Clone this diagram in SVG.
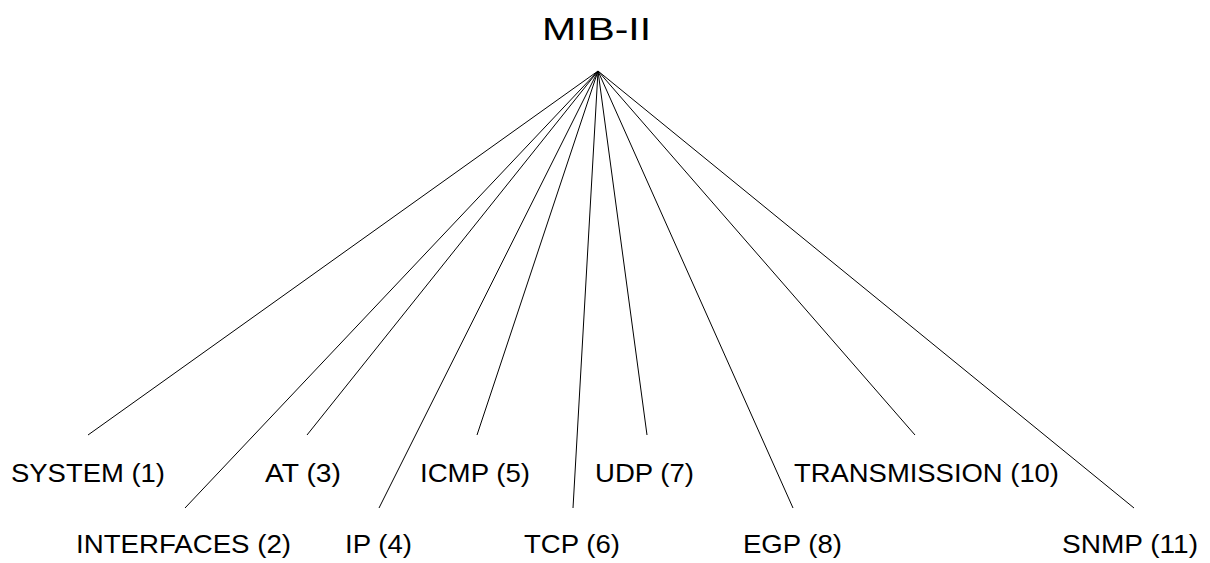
<svg xmlns="http://www.w3.org/2000/svg" width="1210" height="563" viewBox="0 0 1210 563">
<style>
.lbl{font-family:"Liberation Sans",Arial,sans-serif;font-size:26px;fill:#000}
.ttl{font-family:"Liberation Sans",Arial,sans-serif;font-size:32px;fill:#000}
.edge{stroke:#000;stroke-width:1;fill:none}
</style>
<rect width="1210" height="563" fill="#fff"/>
<g id="root"><text class="ttl" x="542" y="39.5" textLength="109" lengthAdjust="spacingAndGlyphs">MIB-II</text></g>
<g id="connectors">
<line class="edge" x1="598" y1="71" x2="88" y2="435"/>
<line class="edge" x1="598" y1="71" x2="185" y2="508"/>
<line class="edge" x1="598" y1="71" x2="307" y2="435"/>
<line class="edge" x1="598" y1="71" x2="379" y2="508"/>
<line class="edge" x1="598" y1="71" x2="477" y2="435"/>
<line class="edge" x1="598" y1="71" x2="573" y2="508"/>
<line class="edge" x1="598" y1="71" x2="647" y2="435"/>
<line class="edge" x1="598" y1="71" x2="793" y2="508"/>
<line class="edge" x1="598" y1="71" x2="915" y2="435"/>
<line class="edge" x1="598" y1="71" x2="1134" y2="508"/>
</g>
<g id="system"><text class="lbl" x="11" y="481.5" textLength="154" lengthAdjust="spacingAndGlyphs">SYSTEM (1)</text></g>
<g id="interfaces"><text class="lbl" x="76" y="553" textLength="215" lengthAdjust="spacingAndGlyphs">INTERFACES (2)</text></g>
<g id="at"><text class="lbl" x="265" y="481.5" textLength="76" lengthAdjust="spacingAndGlyphs">AT (3)</text></g>
<g id="ip"><text class="lbl" x="345" y="553" textLength="67" lengthAdjust="spacingAndGlyphs">IP (4)</text></g>
<g id="icmp"><text class="lbl" x="420" y="481.5" textLength="110" lengthAdjust="spacingAndGlyphs">ICMP (5)</text></g>
<g id="tcp"><text class="lbl" x="524" y="553" textLength="96" lengthAdjust="spacingAndGlyphs">TCP (6)</text></g>
<g id="udp"><text class="lbl" x="595" y="481.5" textLength="99" lengthAdjust="spacingAndGlyphs">UDP (7)</text></g>
<g id="egp"><text class="lbl" x="743" y="553" textLength="99" lengthAdjust="spacingAndGlyphs">EGP (8)</text></g>
<g id="transmission"><text class="lbl" x="794" y="481.5" textLength="265" lengthAdjust="spacingAndGlyphs">TRANSMISSION (10)</text></g>
<g id="snmp"><text class="lbl" x="1062" y="553" textLength="136" lengthAdjust="spacingAndGlyphs">SNMP (11)</text></g>
</svg>
